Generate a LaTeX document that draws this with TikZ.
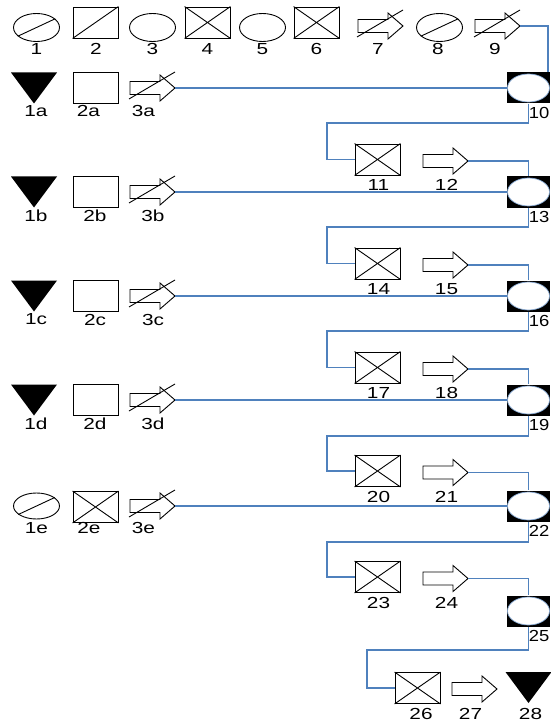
\documentclass[tikz,border=0pt]{standalone}
\usepackage{graphicx}
\usepackage{fontspec}
\setmainfont{Liberation Sans}
\usetikzlibrary{shapes.geometric}
\definecolor{wireblue}{RGB}{79,129,189}
\newcommand\lbltxt[1]{\scalebox{1.3}[1]{#1}}
\newcommand\hubtxt[1]{\scalebox{1.15}[1]{#1}}
\tikzset{
  outl/.style={draw=black,line width=0.9pt},
  boxn/.style={outl,rectangle,minimum width=45pt,minimum height=31pt,inner sep=0pt},
  elln/.style={outl,ellipse,minimum width=46pt,minimum height=28pt,inner sep=0pt},
  hubn/.style={rectangle,fill=black,minimum width=43pt,minimum height=31pt,inner sep=0pt},
  hubin/.style={ellipse,fill=white,draw=wireblue!70,line width=0.7pt,minimum width=42pt,minimum height=28pt,inner sep=0pt},
  lab/.style={inner sep=0pt,font=\fontsize{16}{16}\selectfont},
  wire/.style={draw=wireblue,line width=1.2pt},
  tri/.pic={\fill[black] (-23,-15.5) -- (23,-15.5) -- (0,15.5) -- cycle;},
  plarrow/.pic={
    \draw[outl,fill=white,line join=miter] (-22.5,-6.5) -- (7.5,-6.5) -- (7.5,-13) -- (22.5,0) -- (7.5,13) -- (7.5,6.5) -- (-22.5,6.5) -- cycle;
    \coordinate (-tip) at (22.5,0);},
  slarrow/.pic={
    \draw[outl,fill=white,line join=miter] (-22.5,-6.5) -- (7.5,-6.5) -- (7.5,-13) -- (22.5,0) -- (7.5,13) -- (7.5,6.5) -- (-22.5,6.5) -- cycle;
    \draw[black,line width=0.9pt] (-23.5,11) -- (22.5,-16);
    \coordinate (-tip) at (22.5,0);}
}
\begin{document}
\begin{tikzpicture}[x=1pt,y=-1pt]
\useasboundingbox (0,0) rectangle (550,722);
\fill[white] (0,0) rectangle (550,722);

% ---- top row ----
\node[elln] (e1) at (36.5,27.5) {};
\draw[black,line width=0.9pt] (e1.205) -- (e1.25);
\node[boxn] (b2) at (95.5,22.5) {};
\draw[black,line width=0.9pt] (b2.south west) -- (b2.north east);
\node[elln] (e3) at (152.5,27.5) {};
\node[boxn] (b4) at (207.5,22.5) {};
\draw[black,line width=0.9pt] (b4.south west) -- (b4.north east) (b4.north west) -- (b4.south east);
\node[elln] (e5) at (262.5,27.5) {};
\node[boxn] (b6) at (316.5,22.5) {};
\draw[black,line width=0.9pt] (b6.south west) -- (b6.north east) (b6.north west) -- (b6.south east);
\pic (a7) at (380.5,26) {slarrow};
\node[elln] (e8) at (439.5,27.5) {};
\draw[black,line width=0.9pt] (e8.205) -- (e8.25);
\pic (a9) at (497.5,26) {slarrow};

\node[lab] (l1) at (36.5,49) {\lbltxt{1}};
\node[lab] (l2) at (96,49) {\lbltxt{2}};
\node[lab] (l3) at (152.5,49) {\lbltxt{3}};
\node[lab] (l4) at (207.5,49) {\lbltxt{4}};
\node[lab] (l5) at (262.5,49) {\lbltxt{5}};
\node[lab] (l6) at (316.5,49) {\lbltxt{6}};
\node[lab] (l7) at (378,49) {\lbltxt{7}};
\node[lab] (l8) at (438,49) {\lbltxt{8}};
\node[lab] (l9) at (495,49) {\lbltxt{9}};

% ---- left rows ----
\pic (t1a) at (34,88) {tri};
\pic (t1b) at (34,192) {tri};
\pic (t1c) at (34,296) {tri};
\pic (t1d) at (34,400) {tri};
\node[elln,minimum height=26pt] (e1e) at (36.5,506) {};
\draw[black,line width=0.9pt] (e1e.205) -- (e1e.25);

\node[boxn] (b2a) at (95.5,87.5) {};
\node[boxn] (b2b) at (95.5,191.5) {};
\node[boxn] (b2c) at (95.5,295.5) {};
\node[boxn] (b2d) at (95.5,399.5) {};
\node[boxn] (b2e) at (95.5,507) {};
\draw[black,line width=0.9pt] (b2e.south west) -- (b2e.north east) (b2e.north west) -- (b2e.south east);

\pic (a3a) at (152.5,88) {slarrow};
\pic (a3b) at (152.5,192) {slarrow};
\pic (a3c) at (152.5,296) {slarrow};
\pic (a3d) at (152.5,400) {slarrow};
\pic (a3e) at (152.5,506) {slarrow};

\node[lab] (l1a) at (36,111) {\lbltxt{1a}};
\node[lab] (l2a) at (88.5,111) {\lbltxt{2a}};
\node[lab] (l3a) at (143.5,111) {\lbltxt{3a}};
\node[lab] (l1b) at (36,215.5) {\lbltxt{1b}};
\node[lab] (l2b) at (95,215.5) {\lbltxt{2b}};
\node[lab] (l3b) at (153,215.5) {\lbltxt{3b}};
\node[lab] (l1c) at (36,319.5) {\lbltxt{1c}};
\node[lab] (l2c) at (95,319.5) {\lbltxt{2c}};
\node[lab] (l3c) at (153,319.5) {\lbltxt{3c}};
\node[lab] (l1d) at (36,423.5) {\lbltxt{1d}};
\node[lab] (l2d) at (95,423.5) {\lbltxt{2d}};
\node[lab] (l3d) at (153,423.5) {\lbltxt{3d}};
\node[lab] (l1e) at (36.5,528) {\lbltxt{1e}};
\node[lab] (l2e) at (89,528) {\lbltxt{2e}};
\node[lab] (l3e) at (143.5,528) {\lbltxt{3e}};

% ---- hubs ----
\foreach \nm/\yy in {10/88,13/192,16/296,19/400,22/506,25/611}{
  \node[hubn] (n\nm) at (528.5,\yy) {};
  \node[hubin] (m\nm) at (528.5,\yy) {};
  \node[lab,anchor=east] (l\nm) at (549.5,\yy+25) {\hubtxt{\nm}};
}

% ---- right column ----
\foreach \bn/\an/\yy in {11/12/159.5,14/15/263.5,17/18/367.5,20/21/471,23/24/577}{
  \node[boxn] (b\bn) at (377.5,\yy) {};
  \draw[black,line width=0.9pt] (b\bn.south west) -- (b\bn.north east) (b\bn.north west) -- (b\bn.south east);
  \pic (a\an) at (445.5,\yy+1.5) {plarrow};
  \node[lab] (l\bn) at (378.5,\yy+25.5) {\lbltxt{\bn}};
  \node[lab] (l\an) at (446.5,\yy+25.5) {\lbltxt{\an}};
}
\node[boxn] (b26) at (417.5,688) {};
\draw[black,line width=0.9pt] (b26.south west) -- (b26.north east) (b26.north west) -- (b26.south east);
\pic (a27) at (474.5,689) {plarrow};
\pic (t28) at (528.5,687.5) {tri};
\node[lab] (l26) at (421,714) {\lbltxt{26}};
\node[lab] (l27) at (470.5,714) {\lbltxt{27}};
\node[lab] (l28) at (530.5,714) {\lbltxt{28}};

% ---- wires ----
\draw[wire] (a9-tip) -| ([xshift=19.5pt]n10.north);
\draw[wire] (a3a-tip) -- (n10.west);
\draw[wire] (a3b-tip) -- (n13.west);
\draw[wire] (a3c-tip) -- (n16.west);
\draw[wire] (a3d-tip) -- (n19.west);
\draw[wire] (a3e-tip) -- (n22.west);

\coordinate (j11) at (327,123);
\coordinate (j14) at (327,227);
\coordinate (j17) at (327,331);
\coordinate (j20) at (327,436);
\coordinate (j23) at (327,542);
\coordinate (j26) at (367,650);
\draw[wire] (n10.south) |- (j11) |- (b11.west);
\draw[wire] (n13.south) |- (j14) |- (b14.west);
\draw[wire] (n16.south) |- (j17) |- (b17.west);
\draw[wire] (n19.south) |- (j20) |- (b20.west);
\draw[wire] (n22.south) |- (j23) |- (b23.west);
\draw[wire] (n25.south) |- (j26) |- (b26.west);

\draw[wire] (a12-tip) -| (n13.north);
\draw[wire] (a15-tip) -| (n16.north);
\draw[wire] (a18-tip) -| (n19.north);
\draw[wire] (a21-tip) -| (n22.north);
\draw[wire] (a24-tip) -| (n25.north);
\end{tikzpicture}
\end{document}
